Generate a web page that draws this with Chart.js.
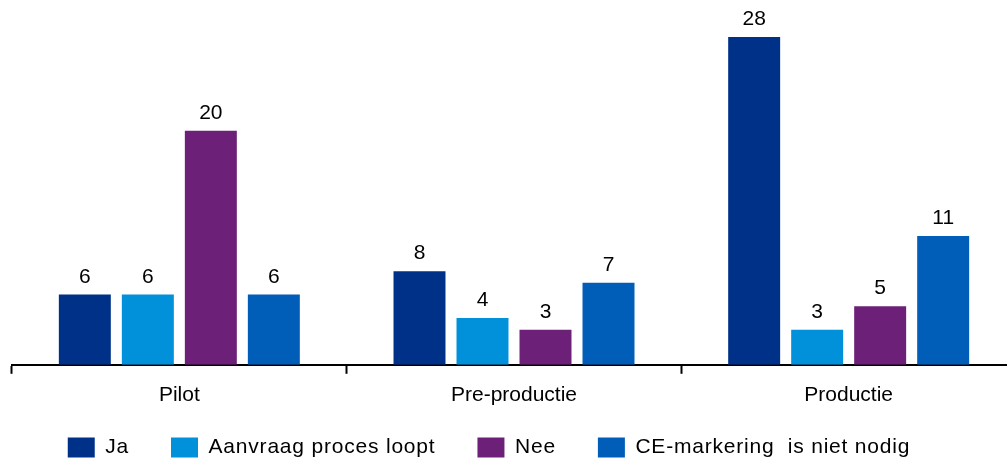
<!DOCTYPE html>
<html>
<head>
<meta charset="utf-8">
<script src="https://cdn.jsdelivr.net/npm/chart.js@4"></script>
<style>
  html, body { margin: 0; padding: 0; background: #fff; overflow: hidden; }
  #wrap { width: 1016px; height: 459px; }
</style>
</head>
<body>
<div id="wrap"><canvas id="chart"></canvas></div>
<script>
const categories = ["Pilot", "Pre-productie", "Productie"];
const seriesNames = ["Ja", "Aanvraag proces loopt", "Nee", "CE-markering  is niet nodig"];
const ja = [6, 8, 28];
const aanvraag = [6, 4, 3];
const nee = [20, 3, 5];
const ceNietNodig = [6, 7, 11];
const colors = ["#003189", "#0091da", "#6d2077", "#005eb8"];

const font = "'Liberation Sans', Arial, sans-serif";

// draws the value above each bar
const valueLabels = {
  id: "valueLabels",
  afterDatasetsDraw(chart) {
    const ctx = chart.ctx;
    ctx.save();
    ctx.font = "21px " + font;
    ctx.fillStyle = "#000";
    ctx.textAlign = "center";
    ctx.textBaseline = "alphabetic";
    chart.data.datasets.forEach((ds, i) => {
      chart.getDatasetMeta(i).data.forEach((bar, j) => {
        ctx.fillText(ds.data[j], bar.x, bar.y - 12);
      });
    });
    ctx.restore();
  },
};

// legend padding is wide for the spacing between items,
// so trim its height and nudge it into place; legend text is a bit spaced out
const legendTrim = {
  id: "legendTrim",
  afterInit(chart) {
    const lg = chart.legend;
    const fit = lg.fit.bind(lg);
    const draw = lg.draw.bind(lg);
    lg.fit = function () {
      chart.ctx.letterSpacing = "0.8px";
      fit();
      chart.ctx.letterSpacing = "0px";
      this.height -= 31;
    };
    lg.draw = function () {
      chart.ctx.letterSpacing = "0.8px";
      draw();
      chart.ctx.letterSpacing = "0px";
    };
  },
  afterLayout(chart) {
    const lg = chart.legend;
    lg.top -= 22;
    lg.left -= 25;
    lg.right -= 25;
  },
};

const config = {
  type: "bar",
  data: {
    labels: categories,
    datasets: [ja, aanvraag, nee, ceNietNodig].map((d, i) => ({
      label: seriesNames[i],
      data: d,
      backgroundColor: colors[i],
      categoryPercentage: 0.753,
      barPercentage: 0.825,
    })),
  },
  options: {
    responsive: true,
    maintainAspectRatio: false,
    animation: false,
    layout: {
      padding: { left: 12, right: 0, top: 37, bottom: 0 },
    },
    scales: {
      x: {
        grid: {
          drawOnChartArea: false,
          drawTicks: true,
          tickLength: 9,
          tickWidth: 2,
          color: "#000",
        },
        border: { color: "#000", width: 2 },
        ticks: {
          color: "#000",
          font: { family: font, size: 21 },
          padding: 9,
        },
      },
      y: {
        display: false,
        min: 0,
        max: 28,
      },
    },
    plugins: {
      legend: {
        position: "bottom",
        labels: {
          color: "#000",
          font: { family: font, size: 21 },
          boxWidth: 27,
          boxHeight: 20,
          padding: 42,
        },
      },
      tooltip: { enabled: false },
    },
  },
  plugins: [valueLabels, legendTrim],
};

new Chart(document.getElementById("chart"), config);
</script>
</body>
</html>
